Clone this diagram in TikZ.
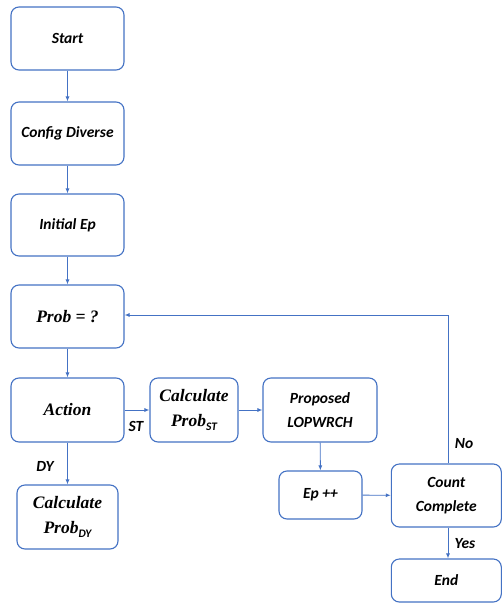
\documentclass[tikz,border=0pt]{standalone}
\usepackage{fontspec}
\setmainfont{Carlito}
\newfontfamily\serifit{Liberation Serif}
\usetikzlibrary{arrows.meta}
\definecolor{boxblue}{HTML}{4472C4}
\newcommand{\subsc}[1]{\raisebox{-3.5pt}{\fontsize{11.5}{12}\selectfont\normalfont\bfseries\itshape #1}}
\tikzset{
  x=1pt,y=-1pt,
  flowbox/.style={draw=boxblue,line width=1.1pt,rounded corners=8pt,fill=white,align=center,inner sep=0pt,
     font=\fontsize{15.5}{24}\selectfont\bfseries\itshape},
  mathbox/.style={flowbox,font=\fontsize{17.5}{25}\selectfont\serifit\bfseries\itshape},
  conn/.style={draw=boxblue,line width=0.9pt,-{Latex[length=5pt,width=4pt]}},
  lbl/.style={font=\fontsize{15.5}{18}\selectfont\bfseries\itshape,inner sep=0pt},
}
\begin{document}
\begin{tikzpicture}
\useasboundingbox (0,0) rectangle (502,605);
\node[flowbox,minimum width=113pt,minimum height=63pt] (start) at (67.5,38.5) {Start};
\node[flowbox,minimum width=113pt,minimum height=63pt] (config) at (67.5,133.5) {Config Diverse};
\node[flowbox,minimum width=113pt,minimum height=62pt] (init) at (67.5,225) {Initial Ep};
\node[mathbox,minimum width=113pt,minimum height=63pt] (prob) at (67.5,316.5) {Prob = ?};
\node[mathbox,minimum width=113pt,minimum height=64pt] (action) at (67.5,410) {Action};
\node[mathbox,minimum width=88pt,minimum height=64pt] (calcst) at (194,410) {Calculate\\Prob\subsc{ST}};
\node[flowbox,minimum width=114pt,minimum height=64pt] (prop) at (320,410) {Proposed\\LOPWRCH};
\node[mathbox,minimum width=101pt,minimum height=64pt] (calcdy) at (67.5,517) {Calculate\\Prob\subsc{DY}};
\node[flowbox,minimum width=83pt,minimum height=48pt] (epp) at (320.5,495) {Ep ++};
\node[flowbox,minimum width=110pt,minimum height=63pt] (count) at (446.3,495.5) {Count\\Complete};
\node[flowbox,minimum width=110pt,minimum height=43pt] (end) at (446.3,580.5) {End};
\coordinate (loop) at (448,315);
\draw[conn] (start) -- (config);
\draw[conn] (config) -- (init);
\draw[conn] (init) -- (prob);
\draw[conn] (prob) -- (action);
\draw[conn] (action) -- (calcst);
\draw[conn] (calcst) -- (prop);
\draw[conn] (action) -- (calcdy);
\draw[conn] (prop) -- (epp);
\draw[conn] (epp) -- (count);
\draw[conn] (count.north -| loop) -- (loop) -- (loop -| prob.east);
\draw[conn] (count.south -| loop) -- (end.north -| loop);
\node[lbl] (st) at (136,426) {ST};
\node[lbl] (dy) at (45,466) {DY};
\node[lbl] (no) at (464,444) {No};
\node[lbl] (yes) at (465,544) {Yes};
\end{tikzpicture}
\end{document}
